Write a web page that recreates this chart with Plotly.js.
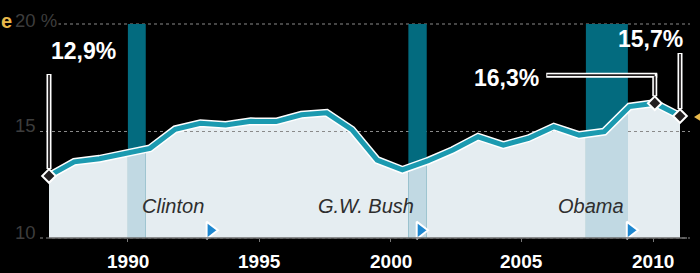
<!DOCTYPE html>
<html><head><meta charset="utf-8">
<script src="https://cdn.plot.ly/plotly-3.0.1.min.js"></script>
<style>html,body{margin:0;padding:0;background:#000;}#chart{width:700px;height:273px;}</style>
</head><body><div id="chart"></div>
<script>
// ---------- data ----------
const rate = [12.9, 13.56, 13.7, 13.95, 14.19, 15.08, 15.36, 15.28, 15.45, 15.44, 15.76, 15.85, 15.06,
              13.64, 13.18, 13.6, 14.11, 14.73, 14.34, 14.66, 15.2, 14.81, 14.97, 16.14, 16.3, 15.7];
const yearTicks = [1990, 1995, 2000, 2005, 2010];
const recessionStart = [1990.0, 2000.68, 2007.44];
const recessionEnd   = [1990.68, 2001.38, 2009.04];
const presidents   = ['Clinton', 'G.W. Bush', 'Obama'];
const inaugurations = [1993, 2001, 2009];
const calloutIndex = [0, 24, 25];
const calloutText  = ['12,9%', '16,3%', '15,7%'];
const yTickVals  = [10, 15, 20];
const yTickTexts = ['10', '15', '20 %'];

// ---------- geometry / style ----------
const W = 700, H = 273, L = 40, R = 10, T = 24, B = 35;
const PW = W - L - R, PH = H - T - B;
const YEAR_RANGE = [1986.653, 2011.405];
const IDX_RANGE = [-0.3566, 25.3962];
const Y_RANGE = [10, 20];
const FONT = 'Liberation Sans, Arial, Helvetica, sans-serif';
const idx = rate.map((_, i) => i);
const px2x = px => (px - L) / PW;
const px2y = py => (H - B - py) / PH;
const yearFrac = yr => (yr - YEAR_RANGE[0]) / (YEAR_RANGE[1] - YEAR_RANGE[0]);
const fracIdx = f => IDX_RANGE[0] + f * (IDX_RANGE[1] - IDX_RANGE[0]);

const hidden = {visible: false, fixedrange: true, showgrid: false, zeroline: false};
const layout = {
  width: W, height: H,
  margin: {l: L, r: R, t: T, b: B, pad: 0},
  paper_bgcolor: '#000', plot_bgcolor: 'rgba(0,0,0,0)',
  showlegend: false, hovermode: false,
  font: {family: FONT},
  xaxis: Object.assign({domain: [0, 1], range: IDX_RANGE, anchor: 'y'}, hidden),
  yaxis: Object.assign({domain: [0, 1], range: Y_RANGE, anchor: 'x'}, hidden),
  xaxis2: {domain: [0, 1], range: YEAR_RANGE, anchor: 'y2', fixedrange: true,
    tickvals: yearTicks, showticklabels: false,
    ticks: 'outside', ticklen: 3, tickcolor: '#777', tickwidth: 1,
    showgrid: false, zeroline: false, showline: false},
  yaxis2: {domain: [0, 1], range: Y_RANGE, anchor: 'x2', fixedrange: true,
    tickvals: [yTickVals[1]], showticklabels: false, ticks: '',
    showgrid: true, gridcolor: '#8a8a8a', griddash: 'dot', gridwidth: 1,
    zeroline: false, showline: false},
  xaxis6: Object.assign({domain: [0, 1], range: IDX_RANGE, anchor: 'y6'}, hidden),
  yaxis6: Object.assign({domain: [0, 1], range: Y_RANGE, anchor: 'x6'}, hidden),
  xaxis7: Object.assign({domain: [0, 1], range: YEAR_RANGE, anchor: 'y7'}, hidden),
  yaxis7: Object.assign({domain: [0, 1], range: Y_RANGE, anchor: 'x7'}, hidden),
  shapes: [], annotations: []
};

const traces = [];
// S1: light area fill
traces.push({type: 'scatter', x: idx, y: rate, xaxis: 'x', yaxis: 'y', mode: 'lines',
  line: {width: 0, color: 'rgba(0,0,0,0)'}, fill: 'tozeroy', fillcolor: '#e5edf1', hoverinfo: 'skip'});
// S2: recession bands (dark)
traces.push({type: 'bar', xaxis: 'x2', yaxis: 'y2',
  x: recessionStart.map((s, i) => (s + recessionEnd[i]) / 2),
  width: recessionStart.map((s, i) => recessionEnd[i] - s),
  base: recessionStart.map(() => Y_RANGE[0]),
  y: recessionStart.map(() => Y_RANGE[1] - Y_RANGE[0]),
  marker: {color: '#036b7f', line: {width: 0}}, hoverinfo: 'skip'});
// S3-S5: light recession bands under the curve (same data, clipped to each band)
recessionStart.forEach((s, i) => {
  const n = i + 3;
  const d0 = yearFrac(s), d1 = yearFrac(recessionEnd[i]);
  layout['xaxis' + n] = Object.assign({domain: [d0, d1], range: [fracIdx(d0), fracIdx(d1)], anchor: 'y' + n}, hidden);
  layout['yaxis' + n] = Object.assign({domain: [0, 1], range: Y_RANGE, anchor: 'x' + n}, hidden);
  traces.push({type: 'scatter', x: idx, y: rate, xaxis: 'x' + n, yaxis: 'y' + n, mode: 'lines',
    line: {width: 0, color: 'rgba(0,0,0,0)'}, fill: 'tozeroy', fillcolor: '#c1d9e3', hoverinfo: 'skip'});
});
// S6: line and callout diamonds
traces.push({type: 'scatter', x: idx, y: rate, xaxis: 'x6', yaxis: 'y6', mode: 'lines',
  line: {color: '#ffffff', width: 8}, hoverinfo: 'skip'});
traces.push({type: 'scatter', x: idx, y: rate, xaxis: 'x6', yaxis: 'y6', mode: 'lines',
  line: {color: '#1b9ab0', width: 5}, hoverinfo: 'skip'});
traces.push({type: 'scatter', x: calloutIndex, y: calloutIndex.map(i => rate[i]), xaxis: 'x6', yaxis: 'y6',
  mode: 'markers', cliponaxis: false,
  marker: {symbol: 'diamond', size: 10.5, color: '#231f20', line: {color: '#ffffff', width: 2}}, hoverinfo: 'skip'});
// S7: inauguration triangles
traces.push({type: 'scatter', x: inaugurations.map(y => y + 0.14), y: inaugurations.map(() => 10.36),
  xaxis: 'x7', yaxis: 'y7', mode: 'markers', cliponaxis: false,
  marker: {symbol: 'triangle-right', size: 15, color: '#1e87cf', line: {color: '#ffffff', width: 2}}, hoverinfo: 'skip'});

// dotted gridlines at 20 and 10 (edges of plot area)
[1, 0].forEach(py => {
  layout.shapes.push({type: 'line', xref: 'paper', yref: 'paper', x0: 0, x1: 1, y0: py, y1: py,
    line: {color: '#8a8a8a', width: 1, dash: 'dot'}, layer: 'below'});
});
// x axis line
layout.shapes.push({type: 'line', xref: 'paper', yref: 'paper', x0: px2x(49), x1: px2x(687), y0: 0, y1: 0,
  line: {color: '#6e6e6e', width: 1.5}, layer: 'above'});
// small gold wedge at right edge
layout.shapes.push({type: 'path', xref: 'paper', yref: 'paper', layer: 'above',
  path: `M ${px2x(694)} ${px2y(117)} L ${px2x(701)} ${px2y(112.5)} L ${px2x(701)} ${px2y(121.5)} Z`,
  fillcolor: '#e8b84b', line: {width: 0}});

// x tick labels (year axis)
yearTicks.forEach(yr => {
  layout.annotations.push({text: '<b>' + yr + '</b>', xref: 'x7', yref: 'paper', x: yr, y: px2y(261),
    xanchor: 'center', yanchor: 'middle', showarrow: false,
    font: {family: FONT, size: 19, color: '#ffffff'}});
});
// y labels
const yShift = [6, 6, 4];
yTickVals.forEach((v, i) => {
  layout.annotations.push({text: yTickTexts[i], xref: 'paper', yref: 'y2', x: px2x(13), y: v,
    xanchor: 'left', yanchor: 'middle', yshift: yShift[i], showarrow: false,
    font: {family: FONT, size: 18.5, color: '#3d3d3d'}, bgcolor: '#000', borderpad: 1});
});
// clipped title letter (end of a title word)
layout.annotations.push({text: '<b>e</b>', xref: 'paper', yref: 'paper', x: px2x(0), y: px2y(21),
  xanchor: 'left', yanchor: 'middle', showarrow: false, borderpad: 0,
  font: {family: FONT, size: 20, color: '#e8b84b'}});

// leader lines
function leader(i, ax, ay, xs, ys, color, width, standoff) {
  layout.annotations.push({text: ' ', xref: 'x6', yref: 'y6', x: calloutIndex[i], y: rate[calloutIndex[i]],
    ax: ax, ay: ay, xshift: xs, yshift: ys, showarrow: true, arrowhead: 0, arrowwidth: width,
    arrowcolor: color, standoff: standoff, font: {size: 1}, borderpad: 0});
}
// whites
leader(0, 0, -103, 0, 0, '#ffffff', 5, 7);
leader(1, 0, -30.5, 0, 0, '#ffffff', 5, 7);
leader(1, -111.5, 0, 2.5, 28, '#ffffff', 5, 0);
leader(2, 0, -64, 0, 0, '#ffffff', 5, 7);
// dark cores
leader(0, 0, -102, 0, 0, '#231f20', 1.8, 8);
leader(1, 0, -28, 0, 0, '#231f20', 1.8, 8);
leader(1, -108, 0, 0, 28, '#231f20', 1.8, 0);
leader(2, 0, -63, 0, 0, '#231f20', 1.8, 8);

// callout labels
const calloutPos = [[83.5, 51], [506.5, 78], [650.5, 39]];
calloutText.forEach((t, i) => {
  layout.annotations.push({text: '<b>' + t + '</b>', xref: 'paper', yref: 'paper',
    x: px2x(calloutPos[i][0]), y: px2y(calloutPos[i][1]), xanchor: 'center', yanchor: 'middle',
    showarrow: false, font: {family: FONT, size: 23, color: '#ffffff'}});
});
// president names
presidents.forEach((p, i) => {
  layout.annotations.push({text: '<i>' + p + '</i>', xref: 'x7', yref: 'paper', x: inaugurations[i],
    y: px2y(206), xanchor: 'right', yanchor: 'middle', xshift: -1, showarrow: false,
    font: {family: FONT, size: 20, color: '#2e2e2e'}});
});

Plotly.newPlot('chart', traces, layout, {staticPlot: true, displayModeBar: false});
</script></body></html>
